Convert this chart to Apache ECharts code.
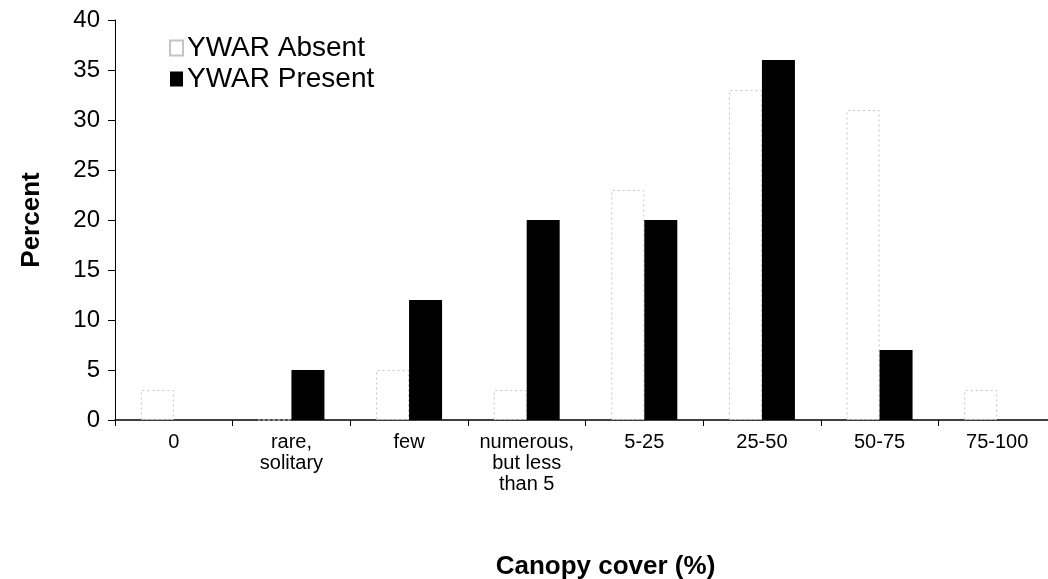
<!DOCTYPE html>
<html>
<head>
<meta charset="utf-8">
<script src="https://cdn.jsdelivr.net/npm/echarts@6/dist/echarts.min.js"></script>
<style>
html,body{margin:0;padding:0;background:#fff;}
#chart{width:1048px;height:579px;}
</style>
</head>
<body>
<div id="chart"></div>
<script>
const categories = ["0", "rare,\nsolitary", "few", "numerous,\nbut less\nthan 5", "5-25", "25-50", "50-75", "75-100"];
const absentValues = [3, 0, 5, 3, 23, 33, 31, 3];
const presentValues = [0, 5, 12, 20, 20, 36, 7, 0];
const yTicks = {min: 0, max: 40, interval: 5};

const chart = echarts.init(document.getElementById('chart'));
const font = '"Liberation Sans", Arial, sans-serif';
chart.setOption({
  backgroundColor: '#fff',
  animation: false,
  grid: {left: 115, right: -8, top: 20, bottom: 159, containLabel: false, outerBoundsMode: 'none'},
  legend: {
    orient: 'vertical',
    left: 164,
    top: 29,
    icon: 'rect',
    itemWidth: 13,
    itemHeight: 15,
    itemGap: 3,
    textStyle: {fontFamily: font, fontSize: 28, color: '#000', padding: [0, 0, 0, -1]},
    data: ['YWAR Absent', 'YWAR Present']
  },
  xAxis: {
    type: 'category',
    data: categories,
    axisLine: {lineStyle: {color: '#000', width: 1.5}},
    axisTick: {show: true, length: 6, lineStyle: {color: '#000'}},
    axisLabel: {fontFamily: font, fontSize: 20, color: '#000', lineHeight: 21, margin: 12, interval: 0},
    name: 'Canopy cover (%)',
    nameLocation: 'middle',
    nameGap: 134,
    nameTextStyle: {fontFamily: font, fontSize: 26, fontWeight: 'bold', color: '#000', padding: [0, 0, 0, 40]}
  },
  yAxis: {
    type: 'value',
    min: yTicks.min, max: yTicks.max, interval: yTicks.interval,
    axisLine: {show: true, lineStyle: {color: '#000', width: 1}},
    axisTick: {show: true, length: 7, lineStyle: {color: '#000'}},
    splitLine: {show: false},
    axisLabel: {fontFamily: font, fontSize: 24, color: '#000', margin: 15},
    name: 'Percent',
    nameLocation: 'middle',
    nameGap: 70,
    nameTextStyle: {fontFamily: font, fontSize: 26, fontWeight: 'bold', color: '#000'}
  },
  series: [
    {
      name: 'YWAR Absent',
      type: 'bar',
      data: absentValues,
      barWidth: 33,
      barGap: '0%',
      itemStyle: {color: '#fff', borderColor: '#c4c4c4', borderWidth: 1, borderType: [2, 3]}
    },
    {
      name: 'YWAR Present',
      type: 'bar',
      data: presentValues,
      barWidth: 33,
      barGap: '0%',
      itemStyle: {color: '#000'}
    }
  ]
});
</script>
</body>
</html>
